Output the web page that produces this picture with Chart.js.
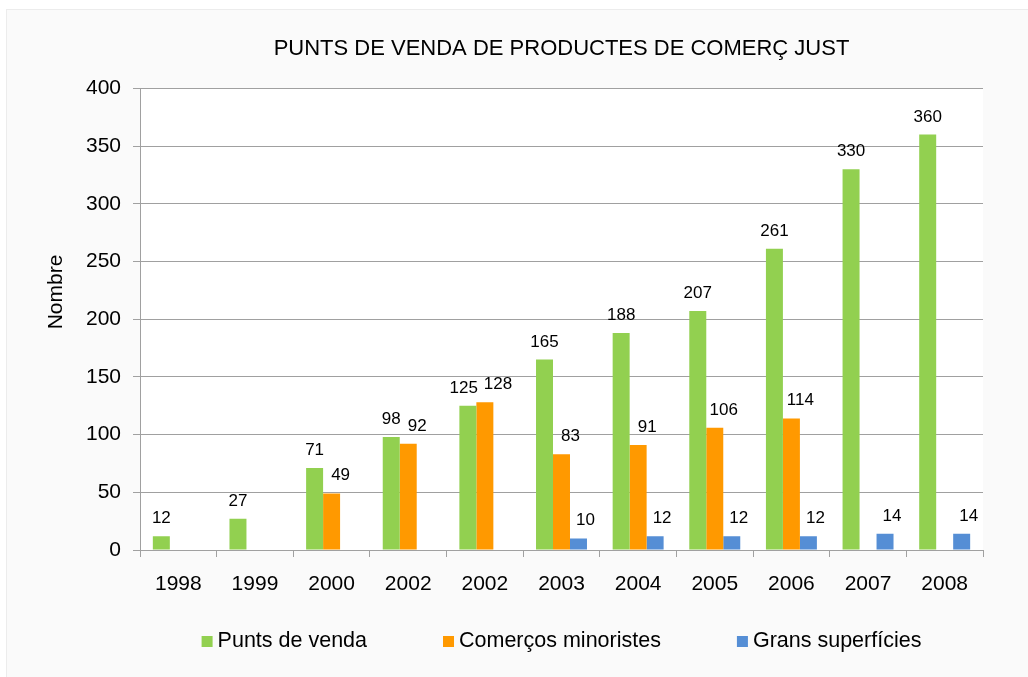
<!DOCTYPE html>
<html>
<head>
<meta charset="utf-8">
<title>Punts de venda de productes de comerç just</title>
<script src="https://cdn.jsdelivr.net/npm/chart.js@4"></script>
<style>
  html, body { margin: 0; padding: 0; background: #fff; }
  #caixa {
    position: absolute; left: 6px; top: 9px;
    width: 1022px; height: 668px;
    background: #fafafa;
    border-top: 1px solid #ececec; border-left: 1px solid #ececec;
  }
  canvas { display: block; }
</style>
</head>
<body>
<div id="caixa"><canvas id="grafic" width="1021" height="667"></canvas></div>
<script>
// Dades llegides del gràfic
const anys = ['1998', '1999', '2000', '2002', '2002', '2003', '2004', '2005', '2006', '2007', '2008'];
const puntsVenda = [12, 27, 71, 98, 125, 165, 188, 207, 261, 330, 360];
const comercosMinoristes = [null, null, 49, 92, 128, 83, 91, 106, 114, null, null];
const gransSuperficies = [null, null, null, null, null, 10, 12, 12, 12, 14, 14];
const maxY = 400;
const pasY = 50;

const font = '"Liberation Sans", Arial, sans-serif';
const grisEix = '#a0a0a0';

// Fons blanc de l'àrea del gràfic
const fonsArea = {
  id: 'fonsArea',
  beforeDraw(chart) {
    const { ctx, chartArea: a } = chart;
    ctx.save();
    ctx.fillStyle = '#fff';
    ctx.fillRect(a.left, a.top, a.right - a.left, a.bottom - a.top);
    ctx.restore();
  }
};

// Etiquetes amb el valor damunt de cada barra
const etiquetesDades = {
  id: 'etiquetesDades',
  afterDatasetsDraw(chart) {
    const ctx = chart.ctx;
    ctx.save();
    ctx.font = '17px ' + font;
    ctx.fillStyle = '#000';
    ctx.textAlign = 'center';
    ctx.textBaseline = 'alphabetic';
    for (let i = 0; i < chart.data.labels.length; i++) {
      const items = [];
      chart.data.datasets.forEach((ds, d) => {
        const v = ds.data[i];
        if (v == null) return;
        const barra = chart.getDatasetMeta(d).data[i];
        const txt = String(v);
        const dx = ds.desplEtiqueta || 0;
        items.push({ txt, x: barra.x + dx, y: barra.y - 13, w: ctx.measureText(txt).width });
      });
      // separa les etiquetes que es trepitgen
      for (let k = 1; k < items.length; k++) {
        const a = items[k - 1], b = items[k];
        if (Math.abs(a.y - b.y) < 17) {
          const falta = (a.w + b.w) / 2 + 6 - (b.x - a.x);
          if (falta > 0) { a.x -= falta / 2; b.x += falta / 2; }
        }
      }
      items.forEach(it => ctx.fillText(it.txt, it.x, it.y));
    }
    ctx.restore();
  }
};

// Llegenda a sota i títol de l'eix vertical
const llegenda = {
  id: 'llegenda',
  afterDraw(chart) {
    const { ctx, chartArea } = chart;
    ctx.save();
    ctx.font = '21.5px ' + font;
    ctx.textBaseline = 'middle';
    ctx.textAlign = 'left';
    const quadre = 11, sep = 5, espai = 76;
    const amples = chart.data.datasets.map(ds => quadre + sep + ctx.measureText(ds.label).width);
    const total = amples.reduce((a, b) => a + b, 0) + espai * (amples.length - 1);
    let x = (chartArea.left + chartArea.right) / 2 - total / 2;
    const y = 631;
    chart.data.datasets.forEach((ds, i) => {
      ctx.fillStyle = ds.backgroundColor;
      ctx.fillRect(x, y - 5, quadre, quadre);
      ctx.fillStyle = '#000';
      ctx.fillText(ds.label, x + quadre + sep, y);
      x += amples[i] + espai;
    });

    ctx.translate(49.5, 282);
    ctx.rotate(-Math.PI / 2);
    ctx.textAlign = 'center';
    ctx.font = '21px ' + font;
    ctx.fillText('Nombre', 0, 0);
    ctx.restore();
  }
};

new Chart(document.getElementById('grafic'), {
  type: 'bar',
  data: {
    labels: anys,
    datasets: [
      { label: 'Punts de venda', data: puntsVenda, backgroundColor: '#92d050' },
      { label: 'Comerços minoristes', data: comercosMinoristes, backgroundColor: '#ff9900', desplEtiqueta: 9 },
      { label: 'Grans superfícies', data: gransSuperficies, backgroundColor: '#558ed5', desplEtiqueta: 7 }
    ]
  },
  options: {
    responsive: false,
    animation: false,
    devicePixelRatio: 1,
    categoryPercentage: 0.665,
    barPercentage: 1,
    layout: { padding: { left: 0, right: 45, top: 0, bottom: 67 } },
    plugins: {
      legend: { display: false },
      tooltip: { enabled: false },
      title: {
        display: true,
        fullSize: false,
        text: 'PUNTS DE VENDA DE PRODUCTES DE COMERÇ JUST',
        color: '#000',
        font: { family: font, size: 22, weight: 'normal', lineHeight: 1.2 },
        padding: { top: 26, bottom: 26 }
      }
    },
    scales: {
      x: {
        grid: { drawOnChartArea: false, drawTicks: true, tickLength: 7, color: grisEix, offset: true },
        border: { display: true, color: grisEix },
        ticks: { color: '#000', font: { family: font, size: 21 }, padding: 15, maxRotation: 0 },
        afterFit(scale) { scale.height = 60; }
      },
      y: {
        min: 0,
        max: maxY,
        grid: { color: grisEix, tickLength: 7 },
        border: { display: true, color: grisEix },
        ticks: { stepSize: pasY, color: '#000', font: { family: font, size: 21 }, padding: 12 },
        afterFit(scale) { scale.width = 133; }
      }
    }
  },
  plugins: [fonsArea, etiquetesDades, llegenda]
});
</script>
</body>
</html>
